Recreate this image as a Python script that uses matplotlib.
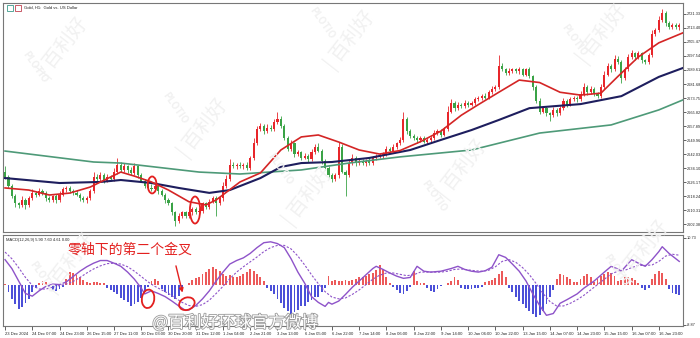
import numpy as np
import matplotlib.pyplot as plt
from matplotlib.patches import Ellipse, Rectangle
import matplotlib.patheffects as pe

plt.rcParams['font.family'] = ['Noto Sans CJK SC', 'DejaVu Sans']

# ---- values (one candle = 2 hours) ----
first_open = 2632.0
close = [
    2629, 2624, 2618, 2614, 2613, 2616, 2613, 2617, 2620, 2619,
    2621, 2620, 2617, 2616, 2618, 2616, 2619, 2622, 2623, 2621,
    2620, 2619, 2617, 2616, 2617, 2621, 2629, 2628, 2630, 2627,
    2629, 2628, 2632, 2636, 2633, 2635, 2633, 2631, 2635, 2630,
    2627, 2624, 2623, 2622, 2624, 2621, 2619, 2616, 2614, 2609,
    2604, 2607, 2609, 2607, 2609, 2611, 2609, 2610, 2614, 2612,
    2615, 2617, 2614, 2617, 2624, 2628, 2636, 2635, 2636, 2635,
    2636, 2634, 2640, 2648, 2656, 2658, 2655, 2657, 2656, 2660,
    2662, 2658, 2651, 2645, 2648, 2642, 2643, 2640, 2641, 2639,
    2643, 2646, 2644, 2638, 2634, 2630, 2628, 2630, 2646, 2632,
    2630, 2637, 2640, 2637, 2638, 2637, 2638, 2637, 2640, 2641,
    2641, 2642, 2645, 2644, 2646, 2648, 2650, 2662, 2655, 2652,
    2651, 2650, 2651, 2649, 2650, 2651, 2654, 2655, 2653, 2656,
    2666, 2671, 2668, 2670, 2669, 2671, 2670, 2671, 2673, 2674,
    2675, 2674, 2677, 2679, 2680, 2692, 2690, 2688, 2689, 2690,
    2689, 2690, 2687, 2690, 2686, 2680, 2672, 2666, 2668, 2665,
    2664, 2667, 2665, 2668, 2672, 2670, 2673, 2674, 2673, 2676,
    2680, 2677, 2679, 2676, 2675, 2680, 2687, 2692, 2690, 2696,
    2694, 2685, 2690, 2697, 2699, 2697, 2699, 2695, 2694, 2698,
    2710, 2712, 2718, 2722, 2716, 2714, 2715, 2714, 2715,
]
upper_wick = [
    3, 1, 1, 1.5, 1, 2, 1, 1.5, 2, 1, 1.5, 1, 1, 1.5, 1, 1.5, 2, 1.5, 1, 1,
    1, 1.5, 1, 1, 1.5, 1, 3, 1.5, 2, 1, 1.5, 1, 2, 4, 1.5, 2, 1, 1.5, 2, 1,
    1, 1, 1.5, 2, 1.5, 1, 1, 1, 1, 1, 1, 1.5, 1, 1, 1.5, 1, 1, 1.5, 1, 1,
    1.5, 1, 1, 1.5, 2, 2, 3, 1.5, 1, 1.5, 1, 1.5, 1, 3, 2, 1.5, 1, 2, 1.5, 2,
    4, 1.5, 1, 1.5, 2, 1, 1.5, 1, 1.5, 1, 2, 1.5, 2, 1, 1, 1.5, 1, 1.5, 3, 1.5,
    1, 1.5, 2, 1, 1.5, 1, 1, 1.5, 1, 1, 1.5, 1, 1.5, 1, 1.5, 1, 1.5, 4, 1, 1,
    1.5, 1, 1, 1.5, 1, 1, 1.5, 1, 1, 1.5, 3, 2, 1, 1.5, 1, 1.5, 1, 1, 1.5, 1,
    1, 1.5, 1, 1.5, 1, 6, 1.5, 1, 1.5, 1, 1, 1.5, 1, 1, 1.5, 1, 1, 1.5, 1, 1,
    1, 1.5, 1, 1, 1.5, 1, 1.5, 1, 1, 1.5, 2, 1, 1.5, 1, 1, 1.5, 2, 1.5, 1, 2,
    1.5, 1, 1.5, 1.5, 2, 1, 1.5, 1, 1, 1.5, 2, 1.5, 2, 2, 1, 1.5, 1, 1.5, 1,
]
lower_wick = [
    1, 1.5, 1, 2, 1.5, 1, 2, 1, 1, 1.5, 1, 1, 1.5, 1, 1, 2, 1, 1, 1.5, 1,
    1, 1, 1.5, 1, 2, 1, 1, 1.5, 1, 1.5, 1, 1, 1, 1.5, 1, 1, 1.5, 1, 1, 1.5,
    1, 1.5, 1, 1, 1, 1.5, 1, 1.5, 1, 1.5, 3, 1, 1.5, 1, 1, 1.5, 1, 1, 1.5, 1,
    1, 1, 7, 1, 1.5, 1, 1, 1, 1.5, 1, 1.5, 1, 1, 1.5, 1, 1, 1.5, 1, 1, 1,
    1, 1.5, 1, 1.5, 1, 1.5, 1, 1.5, 1, 1.5, 1, 1, 1, 1.5, 1, 1.5, 2, 1, 1.5, 1,
    12, 1, 1, 1.5, 1, 1, 1.5, 1, 1, 1.5, 1, 1, 1, 1.5, 1, 1, 1, 1, 1.5, 1,
    1, 1.5, 1, 1, 1.5, 1, 1, 1, 1.5, 1, 1, 1, 1.5, 1, 1, 1, 1.5, 1, 1, 1,
    1.5, 1, 1, 1, 1.5, 1, 1, 1.5, 1, 1, 1, 1.5, 1, 1, 1, 1.5, 1, 1.5, 1, 1.5,
    3, 1, 1.5, 1, 1, 1.5, 1, 1, 1.5, 1, 1, 1.5, 1, 1, 1.5, 1, 1, 1, 1.5, 1,
    1, 3, 1, 1, 1, 1.5, 1, 1.5, 1, 1, 1, 1, 1, 1, 1.5, 1, 1, 1, 1.5,
]

ma_fast_idx = [0, 7, 13, 19, 25, 31, 34, 38, 43, 48, 54, 59, 62, 69, 75, 81, 87, 92,
               98, 104, 110, 116, 122, 128, 134, 139, 145, 151, 157, 163, 169, 175,
               180, 186, 192, 199]
ma_fast = [2622.8, 2621.6, 2618.8, 2619.9, 2623.3, 2629.0, 2631.8, 2629.5, 2626.2,
           2621.6, 2615.0, 2613.2, 2616.0, 2626.2, 2631.3, 2644.3, 2651.7, 2652.8,
           2648.8, 2644.3, 2642.0, 2644.0, 2649.0, 2655.0, 2664.0, 2670.0, 2677.0,
           2683.9, 2682.5, 2677.0, 2675.4, 2676.5, 2686.0, 2697.0, 2705.0, 2710.6]
ma_mid_idx = [0, 16, 28, 34, 43, 51, 60, 66, 75, 81, 87, 96, 107, 119, 128, 137, 145,
              154, 169, 181, 192, 199]
ma_mid = [2628.4, 2625.6, 2626.2, 2627.3, 2625.6, 2622.8, 2620.0, 2621.6, 2628.4,
          2634.7, 2636.9, 2637.5, 2639.8, 2644.3, 2650.0, 2655.6, 2661.3, 2668.0,
          2670.3, 2674.8, 2685.7, 2690.7]
ma_slow_idx = [0, 26, 34, 57, 69, 87, 101, 116, 137, 157, 178, 192, 199]
ma_slow = [2643.7, 2637.5, 2636.9, 2631.8, 2630.7, 2633.0, 2636.9, 2640.4, 2644.3,
           2653.9, 2658.5, 2667.0, 2672.6]

price_ticks = [2602.38, 2610.31, 2618.24, 2626.17, 2634.10, 2642.03, 2649.96, 2657.89,
               2665.82, 2673.75, 2681.68, 2689.61, 2697.54, 2705.47, 2713.40, 2721.33]
date_labels = ['23 Dec 2024', '24 Dec 07:00', '24 Dec 23:00', '26 Dec 15:00', '27 Dec 11:00',
               '30 Dec 03:00', '30 Dec 20:00', '31 Dec 12:00', '1 Jan 04:00', '2 Jan 21:00',
               '3 Jan 13:00', '6 Jan 05:00', '6 Jan 22:00', '7 Jan 14:00', '8 Jan 06:00',
               '8 Jan 22:00', '9 Jan 14:00', '10 Jan 06:00', '10 Jan 22:00', '13 Jan 15:00',
               '14 Jan 07:00', '14 Jan 23:00', '15 Jan 15:00', '16 Jan 07:00', '16 Jan 23:00']

macd_hist = [
    0.3, -1.5, -3, -4.2, -5.2, -4.8, -4, -3, -1.5, -0.5,
    0.6, 1.0, 0.8, -0.5, -1.0, -1.2, -0.8, -0.3, 1.5, 3.0,
    2.8, 2.4, 2.0, 1.2, 0.8, 0.6, 0.7, 0.8, 0.6, 0.5,
    -0.5, -1.0, -1.5, -2.0, -2.8, -3.2, -3.8, -4.5, -4.2, -3.6,
    -2.8, -1.5, -0.4, 1.0, 1.4, 0.9, -0.8, -1.5, -2.2, -2.6,
    -3.0, -2.4, -1.0, 0.2, 0.5, 1.2, 1.6, 2.0, 2.5, 3.0,
    3.6, 4.1, 3.8, 3.2, 2.6, 2.2, 2.4, 2.0, 1.8, 2.2,
    2.5, 3.0, 3.6, 3.2, 2.5, 1.8, 1.0, -0.5, -1.2, -2.0,
    -3.0, -4.0, -5.0, -5.8, -6.3, -6.0, -5.4, -4.6, -4.5, -3.8,
    -3.2, -2.5, -2.6, -1.5, -0.5, 2.2, 1.0, 1.2, 1.0, 1.1,
    1.2, 1.0, 1.3, 1.5, 1.8, 2.0, 2.2, 2.5, 2.8, 3.5,
    4.7, 3.8, 2.0, 0.5, -0.4, -1.0, -1.6, -1.9, -1.2, -0.4,
    3.2, 1.0, 0.5, 0.6, -0.6, -1.2, -1.5, -0.8, -0.2, 0.2,
    0.5, 1.0, 1.9, 1.2, -0.5, -0.8, -0.8, -0.7, -0.6, -0.5,
    -0.3, 0.8, 1.0, 1.2, 1.6, 2.6, 3.2, 2.0, -0.5, -1.5,
    -2.5, -3.4, -4.2, -5.0, -5.8, -6.5, -7.0, -6.6, -5.8, -4.2,
    -2.5, -1.0, 1.5, 2.5, 2.3, 2.0, 1.5, 0.8, 0.8, 1.5,
    2.2, 2.5, 1.8, 0.8, 1.5, 2.2, 2.6, 3.0, 2.8, 2.2,
    1.0, 1.2, 1.8, 1.9, 1.6, 1.2, 0.5, -0.5, -1.0, -0.6,
    1.5, 2.6, 3.2, 2.8, 1.5, -0.8, -1.6, -2.0, -2.2,
]
macd_idx = [0, 2, 4, 6, 8, 10, 12, 14, 16, 18, 20, 22, 24, 26, 28, 30, 32, 34, 36, 38,
            40, 41, 43, 45, 47, 49, 51, 53, 54, 56, 58, 60, 62, 64, 66, 68, 70, 72, 74,
            76, 78, 80, 82, 84, 86, 88, 90, 92, 94, 95, 96, 98, 100, 102, 104, 106, 108,
            109, 111, 113, 115, 117, 119, 121, 123, 125, 128, 131, 133, 135, 137, 139,
            141, 143, 145, 147, 149, 151, 153, 155, 157, 159, 161, 163, 165, 168, 170,
            173, 176, 178, 180, 181, 184, 186, 188, 190, 192, 193, 195, 197, 198]
macd_main = [5.8, 3.8, 1.0, -1.8, -2.4, -1.2, -0.2, 0.3, 0.2, 0.8, 2.0, 3.2, 4.2, 5.0,
             5.6, 5.6, 5.0, 4.3, 3.0, 1.4, -0.6, -1.9, -1.2, -1.8, -2.5, -3.5, -4.6,
             -5.6, -5.5, -4.5, -3.0, -1.2, 1.0, 3.0, 4.8, 5.6, 6.2, 7.2, 8.5, 9.6, 9.8,
             9.4, 8.5, 6.0, 3.0, 0.5, -2.5, -3.8, -4.7, -3.8, -4.2, -3.5, -2.0, -0.4,
             1.0, 2.4, 3.8, 4.3, 3.6, 2.8, 2.1, 1.6, 1.8, 4.3, 3.2, 3.0, 3.2, 3.8, 4.3,
             3.6, 3.2, 3.0, 3.3, 4.1, 6.9, 6.3, 4.8, 3.2, 1.0, -1.9, -4.5, -6.7, -6.3,
             -4.0, -3.2, -1.9, -0.6, 1.0, 3.0, 4.3, 3.7, 3.2, 5.8, 5.0, 4.3, 5.8, 7.6,
             8.7, 7.2, 6.0, 5.4]
signal_idx = list(range(0, 199, 2))
macd_signal = [7.5, 6.0, 4.0, 1.8, 0.0, -0.8, -0.8, -0.4, 0.0, 0.3,
               0.9, 1.8, 2.8, 3.7, 4.4, 4.9, 5.0, 4.8, 4.2, 3.2,
               2.0, 0.8, -0.2, -1.0, -1.8, -2.8, -3.8, -4.5, -4.7, -4.3,
               -3.3, -1.8, -0.2, 1.5, 3.0, 4.2, 5.3, 6.4, 7.6, 8.5,
               9.0, 9.0, 8.2, 6.6, 4.6, 2.4, 0.4, -1.4, -2.6, -3.0,
               -2.8, -2.0, -1.0, 0.2, 1.4, 2.3, 2.8, 2.8, 2.5, 2.2,
               2.4, 3.0, 3.0, 3.0, 3.0, 3.2, 3.6, 3.7, 3.5, 3.3,
               3.2, 3.4, 4.2, 5.4, 5.8, 5.2, 4.0, 2.4, 0.4, -1.8,
               -3.6, -4.6, -4.6, -4.0, -3.2, -2.2, -1.0, 0.2, 1.4, 2.6,
               3.2, 3.4, 4.0, 4.5, 4.5, 4.6, 5.4, 6.6, 7.0, 6.8]

# ---- layout in pixels ----
W, H = 700, 338
SMALL = 'Liberation Sans'


def box(x0, y0, x1, y1):
    return [x0 / W, 1 - y1 / H, (x1 - x0) / W, (y1 - y0) / H]


fig = plt.figure(figsize=(7, 3.38), dpi=100)
ax = fig.add_axes(box(3, 3, 683, 232))
ax2 = fig.add_axes(box(3, 235, 683, 326))

# faint watermarks
for (wx, wy) in [(0.09, 0.86), (0.29, 0.62), (0.50, 0.88), (0.86, 0.90), (0.44, 0.42),
                 (0.10, 0.22), (0.66, 0.50), (0.92, 0.26)]:
    fig.text(wx, wy, '| 百利好', fontsize=14, color='#f1f1f1', rotation=52,
             ha='center', va='center', zorder=0)
for (wx, wy) in [(0.05, 0.80), (0.25, 0.68), (0.46, 0.93), (0.82, 0.88), (0.40, 0.50),
                 (0.06, 0.18), (0.62, 0.42), (0.88, 0.20)]:
    fig.text(wx, wy, 'PLOTIO', fontsize=7, color='#f1f1f1', rotation=-55,
             ha='center', va='center', zorder=0, weight='bold')

n = len(close)
x = np.arange(n)
cl = np.array(close, dtype=float)
op = np.r_[first_open, cl[:-1]]
hi = np.maximum(op, cl) + np.array(upper_wick)
lo = np.minimum(op, cl) - np.array(lower_wick)
col = np.where(cl >= op, '#e8262b', '#3aa346')

ax.vlines(x, lo, hi, colors=col, lw=0.6, zorder=2)
ax.bar(x, np.maximum(np.abs(cl - op), 0.4), bottom=np.minimum(op, cl), width=0.62,
       color=col, linewidth=0, zorder=3)
ax.plot(ma_slow_idx, ma_slow, color='#4e9a78', lw=1.2, zorder=4, solid_joinstyle='round')
ax.plot(ma_mid_idx, ma_mid, color='#1e1e5e', lw=1.5, zorder=4, solid_joinstyle='round')
ax.plot(ma_fast_idx, ma_fast, color='#d42525', lw=1.2, zorder=4, solid_joinstyle='round')

ax.set_xlim(-0.6, 199.1)
ax.set_ylim(2597.85, 2727.56)
ax.set_xticks([])
ax.yaxis.tick_right()
ax.set_yticks(price_ticks)
ax.set_yticklabels(['%.2f' % v for v in price_ticks], family=SMALL)
ax.tick_params(axis='y', direction='out', length=2, width=0.5, labelsize=2.8, pad=0.8,
               colors='#222222')

# circles on the price chart
for cx, cy, w, h in [(43.2, 2624.5, 2.6, 9.6), (55.8, 2610.3, 3.0, 15.3)]:
    ax.add_patch(Ellipse((cx, cy), w, h, fill=False, ec='#e3201f', lw=1.3, zorder=6))

# ---- MACD panel ----
hcol = np.where(np.array(macd_hist) >= 0, '#ec5a5a', '#4b4fd8')
ax2.bar(np.arange(len(macd_hist)), macd_hist, width=0.55, color=hcol, linewidth=0)
ax2.plot(macd_idx, macd_main, color='#8e53c9', lw=1.0)
ax2.plot(signal_idx, macd_signal, color='#8e53c9', lw=0.8, ls=(0, (2, 1.5)))
ax2.set_xlim(-0.6, 199.1)
ax2.set_ylim(-9.1, 11.33)
ax2.yaxis.tick_right()
ax2.set_yticks([10.73, -8.87])
ax2.set_yticklabels(['10.73', '-8.87'], family=SMALL)
ax2.tick_params(axis='y', direction='out', length=2, width=0.5, labelsize=2.8, pad=0.8,
                colors='#222222')
ax2.set_xticks(np.arange(0, 193, 8))
ax2.set_xticklabels(date_labels, ha='left', family=SMALL)
ax2.tick_params(axis='x', direction='out', length=3, width=0.5, labelsize=3.0, pad=1,
                colors='#222222')

for cx, cy, w, h, ang in [(42.0, -3.0, 3.6, 4.2, -20), (53.4, -4.1, 4.6, 2.8, 10)]:
    ax2.add_patch(Ellipse((cx, cy), w, h, angle=ang, fill=False, ec='#e3201f', lw=1.3,
                          zorder=6))

for a in (ax, ax2):
    for s in a.spines.values():
        s.set_color('#777777')
        s.set_linewidth(0.8)

# texts
fig.text(24 / W, 1 - 8 / H, 'Gold, H1:  Gold vs. US Dollar', fontsize=3.0, color='#222222',
         va='center', family=SMALL)
fig.patches.append(Rectangle((7 / W, 1 - 11 / H), 6 / W, 6 / H, transform=fig.transFigure,
                             fill=False, ec='#3a9a8a', lw=0.6))
fig.patches.append(Rectangle((15 / W, 1 - 11 / H), 6 / W, 6 / H, transform=fig.transFigure,
                             fill=False, ec='#c04050', lw=0.6))
fig.text(6 / W, 1 - 239.5 / H, 'MACD(12,26,9) 5.90 7.60 4.61 0.00', fontsize=2.9,
         color='#222222', va='center', family=SMALL)
fig.text(130 / W, 1 - 250 / H, '零轴下的第二个金叉', fontsize=10, color='#e3201f',
         ha='center', va='center')
ax2.annotate('', xy=(52.3, -2.2), xytext=(50.0, 5.0),
             arrowprops=dict(arrowstyle='-|>', color='#e3201f', lw=1.0,
                             mutation_scale=6))
fig.text(235 / W, 1 - 323 / H, '@百利好环球官方微博', fontsize=12, color='white',
         ha='center', va='center',
         path_effects=[pe.withStroke(linewidth=1.2, foreground='#9a9a9a')])

fig.savefig('out.png', dpi=100)
